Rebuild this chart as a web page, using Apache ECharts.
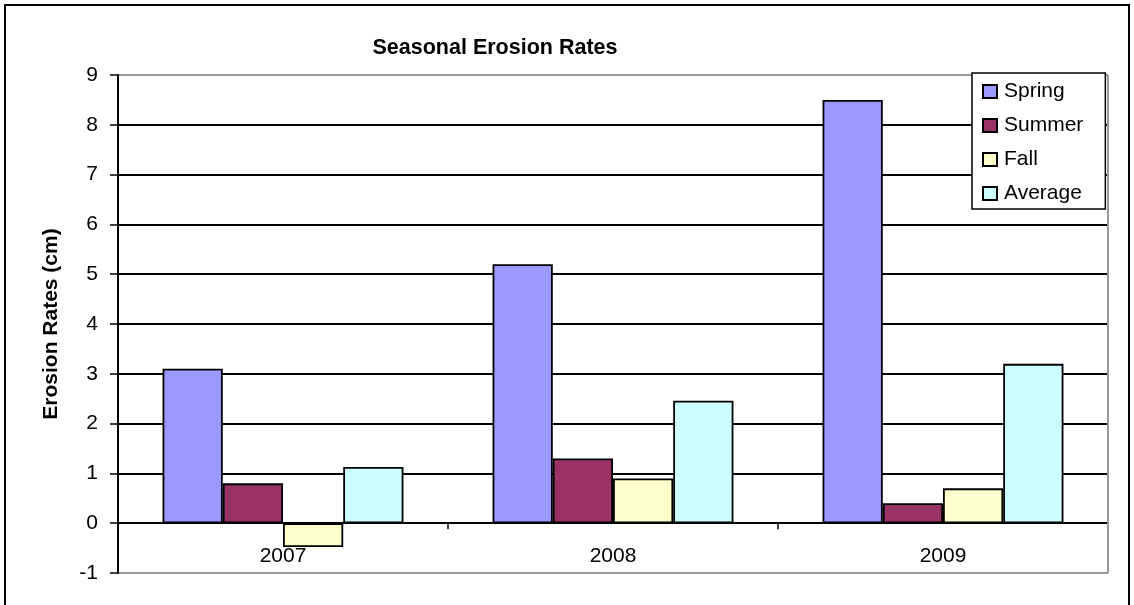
<!DOCTYPE html>
<html><head><meta charset="utf-8">
<script src="https://cdn.jsdelivr.net/npm/echarts@6/dist/echarts.min.js"></script>
<style>html,body{margin:0;padding:0;background:#fff}#c{width:1134px;height:605px}</style>
</head><body><div id="c"></div>
<script>
var categories = ['2007', '2008', '2009'];
var spring = [3.1, 5.2, 8.5];
var summer = [0.8, 1.3, 0.4];
var fall = [-0.48, 0.9, 0.7];
var average = [1.13, 2.46, 3.2];
var seriesNames = ['Spring', 'Summer', 'Fall', 'Average'];
var seriesColors = ['#9999FF', '#993366', '#FFFFCC', '#CCFFFF'];
var FONT = '"Liberation Sans", Arial, sans-serif';

var chart = echarts.init(document.getElementById('c'));
var values = [spring, summer, fall, average];
var series = values.map(function (v, i) {
  return {
    name: seriesNames[i], type: 'bar', data: v, xAxisIndex: 0,
    barGap: '0%', barCategoryGap: '27%',
    itemStyle: { color: seriesColors[i], borderColor: '#000', borderWidth: 1.8 },
    emphasis: { disabled: true }
  };
});
var splitColors = ['#999'];
for (var k = 0; k < 9; k++) splitColors.push('#000');
splitColors.push('#999');

chart.setOption({
  animation: false,
  backgroundColor: '#fff',
  title: {
    text: 'Seasonal Erosion Rates', left: 490, top: 32, textAlign: 'center',
    textStyle: { fontFamily: FONT, fontWeight: 'bold', fontSize: 21.5, color: '#000' }
  },
  graphic: [{
    type: 'rect', shape: { x: 5, y: 5, width: 1124, height: 610 },
    style: { fill: 'none', stroke: '#000', lineWidth: 2 }, z: 100
  }, {
    type: 'line', shape: { x1: 1108, y1: 75, x2: 1108, y2: 573 },
    style: { stroke: '#999', lineWidth: 2 }, z: 1
  }],
  legend: {
    orient: 'vertical', left: 972, top: 73,
    data: seriesNames, icon: 'rect', itemWidth: 14, itemHeight: 13, itemGap: 13,
    padding: [8, 22, 5, 10],
    backgroundColor: '#fff', borderColor: '#000', borderWidth: 1.5,
    textStyle: { fontFamily: FONT, fontSize: 21, lineHeight: 21, color: '#000', padding: [0, 0, 0, 2] },
    z: 10
  },
  grid: { left: 118, right: 26, top: 75, bottom: 32, outerBoundsMode: 'none', containLabel: false },
  xAxis: [{
    type: 'category', data: categories,
    axisLine: { onZero: true, lineStyle: { color: '#000', width: 1.5 } },
    axisTick: { show: true, length: 6, lineStyle: { color: '#000', width: 1.5 } },
    axisLabel: { show: false }
  }, {
    type: 'category', data: categories, position: 'bottom',
    axisLine: { show: false, onZero: false },
    axisTick: { show: false },
    axisLabel: { fontFamily: FONT, fontSize: 21, color: '#000', margin: -27 }
  }],
  yAxis: {
    type: 'value', min: -1, max: 9, interval: 1,
    name: 'Erosion Rates (cm)', nameLocation: 'middle', nameGap: 56,
    nameTextStyle: { fontFamily: FONT, fontWeight: 'bold', fontSize: 21, color: '#000' },
    axisLine: { show: true, lineStyle: { color: '#000', width: 2 } },
    axisTick: { show: true, length: 8, lineStyle: { color: '#000', width: 1.5 } },
    axisLabel: { fontFamily: FONT, fontSize: 21, color: '#000', margin: 20 },
    splitLine: { show: true, lineStyle: { color: splitColors, width: 2 } }
  },
  series: series
});
</script></body></html>
